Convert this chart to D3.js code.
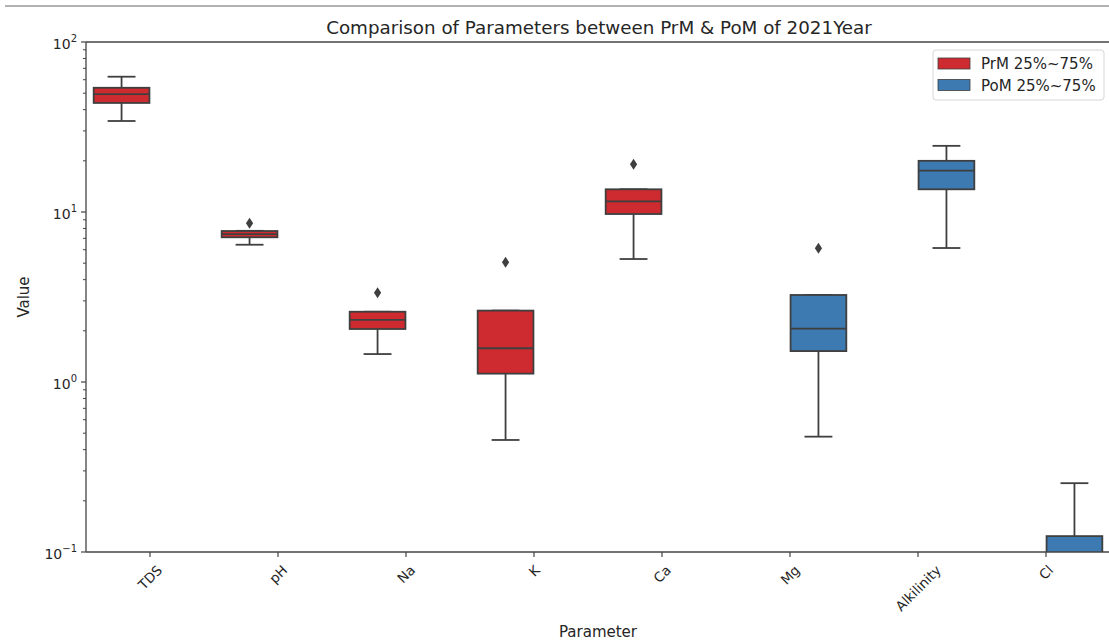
<html>
  <head>
    <script src="https://d3js.org/d3.v7.min.js" charset="utf-8"></script>
    <style>
      body { margin: 0; background: #fff; }
      text { font-family: "DejaVu Sans", sans-serif; fill: #262626; }
    </style>
  </head>
  <body>
    <script>
      var w = 1109;
      var h = 641;

      // one box per parameter: hue, whisker low, q1, median, q3, whisker high, outliers
      var categories = ["TDS", "pH", "Na", "K", "Ca", "Mg", "Alkilinity", "Cl"];
      var hues = ["PrM", "PrM", "PrM", "PrM", "PrM", "PoM", "PoM", "PoM"];
      var whiskLow = [34.3, 6.42, 1.46, 0.456, 5.29, 0.477, 6.14, 0.03];
      var q1 = [43.8, 7.10, 2.05, 1.12, 9.73, 1.52, 13.6, 0.06];
      var median = [49.4, 7.42, 2.32, 1.58, 11.56, 2.06, 17.5, 0.09];
      var q3 = [53.8, 7.73, 2.59, 2.63, 13.6, 3.25, 20.0, 0.124];
      var whiskHigh = [62.5, 7.75, 2.59, 2.63, 13.6, 3.25, 24.5, 0.254];
      var outliers = [[], [8.58], [3.35], [5.06], [19.1], [6.11], [], []];

      var hueNames = ["PrM", "PoM"];
      var legendLabels = ["PrM 25%~75%", "PoM 25%~75%"];
      var yTicks = [0.1, 1, 10, 100];

      var colors = {PrM: "#cd2b2f", PoM: "#3c7ab1"};
      var lineColor = "#3f3f3f";

      var mLeft = 86, mRight = 1110, mTop = 42, mBottom = 552;

      var svg = d3.select("body")
      .append("svg")
      .attr("width", w)
      .attr("height", h);

      // thin frame line at the very top of the picture
      svg.append("line")
      .attr("x1", 5).attr("x2", w)
      .attr("y1", 6).attr("y2", 6)
      .attr("stroke", "#666").attr("stroke-width", 1.2);

      var x = d3.scaleBand().domain(categories).range([mLeft, mRight]);
      var y = d3.scaleLog().domain([0.1, 100]).range([mBottom, mTop]);
      var dodge = d3.scaleBand().domain(hueNames).range([0, x.bandwidth()]).paddingOuter(0.125).paddingInner(0);

      svg.append("defs").append("clipPath").attr("id", "plotclip")
      .append("rect")
      .attr("x", mLeft).attr("y", mTop)
      .attr("width", mRight - mLeft).attr("height", mBottom - mTop);

      var data = categories.map(function(c, i){
        return {cat: c, hue: hues[i], lo: whiskLow[i], q1: q1[i], med: median[i],
                q3: q3[i], hi: whiskHigh[i], out: outliers[i]};
      });

      var g = svg.append("g").attr("clip-path", "url(#plotclip)");
      var boxW = dodge.bandwidth() * 0.98;

      var boxes = g.selectAll(".box")
      .data(data)
      .enter()
      .append("g")
      .attr("class", "box")
      .attr("transform", function(d){
        return "translate(" + (x(d.cat) + dodge(d.hue) + dodge.bandwidth() / 2) + ",0)";
      });

      // whiskers
      boxes.append("line")
      .attr("x1", 0).attr("x2", 0)
      .attr("y1", function(d){return y(d.hi);})
      .attr("y2", function(d){return y(d.q3);})
      .attr("stroke", lineColor).attr("stroke-width", 1.8);
      boxes.append("line")
      .attr("x1", 0).attr("x2", 0)
      .attr("y1", function(d){return y(d.q1);})
      .attr("y2", function(d){return y(d.lo);})
      .attr("stroke", lineColor).attr("stroke-width", 1.8);
      // caps
      boxes.selectAll(".cap")
      .data(function(d){return [d.lo, d.hi];})
      .enter()
      .append("line")
      .attr("class", "cap")
      .attr("x1", -boxW / 4).attr("x2", boxW / 4)
      .attr("y1", function(v){return y(v);})
      .attr("y2", function(v){return y(v);})
      .attr("stroke", lineColor).attr("stroke-width", 1.8);

      boxes.append("rect")
      .attr("x", -boxW / 2)
      .attr("width", boxW)
      .attr("y", function(d){return y(d.q3);})
      .attr("height", function(d){return y(d.q1) - y(d.q3);})
      .attr("fill", function(d){return colors[d.hue];})
      .attr("stroke", lineColor).attr("stroke-width", 1.8);

      boxes.append("line")
      .attr("x1", -boxW / 2).attr("x2", boxW / 2)
      .attr("y1", function(d){return y(d.med);})
      .attr("y2", function(d){return y(d.med);})
      .attr("stroke", lineColor).attr("stroke-width", 1.8);

      boxes.selectAll(".flier")
      .data(function(d){return d.out;})
      .enter()
      .append("path")
      .attr("class", "flier")
      .attr("d", function(v){
        var cy = y(v);
        return "M0," + (cy - 5.5) + "L3.6," + cy + "L0," + (cy + 5.5) + "L-3.6," + cy + "Z";
      })
      .attr("fill", lineColor);

      // spines
      svg.append("line").attr("x1", mLeft).attr("x2", mRight).attr("y1", mTop).attr("y2", mTop)
      .attr("stroke", "#444").attr("stroke-width", 1.3);
      svg.append("line").attr("x1", mLeft).attr("x2", mRight).attr("y1", mBottom).attr("y2", mBottom)
      .attr("stroke", "#444").attr("stroke-width", 1.3);
      svg.append("line").attr("x1", mLeft).attr("x2", mLeft).attr("y1", mTop).attr("y2", mBottom)
      .attr("stroke", "#444").attr("stroke-width", 1.3);

      // y axis: major ticks with 10^n labels, minor ticks 2..9
      var minor = [];
      yTicks.slice(0, -1).forEach(function(t){
        for (var k = 2; k < 10; k++) minor.push(t * k);
      });
      var yAxis = svg.append("g").attr("transform", "translate(" + mLeft + ",0)");
      yAxis.selectAll(".minor")
      .data(minor).enter().append("line")
      .attr("x1", -3).attr("x2", 0)
      .attr("y1", function(v){return y(v);}).attr("y2", function(v){return y(v);})
      .attr("stroke", "#444").attr("stroke-width", 1);
      yAxis.selectAll(".major")
      .data(yTicks).enter().append("line")
      .attr("x1", -5).attr("x2", 0)
      .attr("y1", function(v){return y(v);}).attr("y2", function(v){return y(v);})
      .attr("stroke", "#444").attr("stroke-width", 1.2);
      var ylab = yAxis.selectAll(".ylab")
      .data(yTicks).enter().append("text")
      .attr("x", -9)
      .attr("y", function(v){return y(v) + 6.5;})
      .attr("text-anchor", "end")
      .attr("font-size", 14);
      ylab.append("tspan").text("10");
      ylab.append("tspan")
      .attr("font-size", 10)
      .attr("dy", -6.5)
      .text(function(v){
        var e = Math.round(Math.log10(v));
        return e < 0 ? "\u2212" + Math.abs(e) : e;
      });

      // x axis ticks and rotated labels
      svg.selectAll(".xtick")
      .data(categories).enter().append("line")
      .attr("x1", function(c){return x(c) + x.bandwidth() / 2;})
      .attr("x2", function(c){return x(c) + x.bandwidth() / 2;})
      .attr("y1", mBottom).attr("y2", mBottom + 5)
      .attr("stroke", "#444").attr("stroke-width", 1.2);
      svg.selectAll(".xlab")
      .data(categories).enter().append("text")
      .attr("class", "xlab")
      .attr("font-size", 13.5)
      .attr("text-anchor", "middle")
      .attr("dominant-baseline", "central")
      .text(function(c){return c;})
      .attr("transform", function(c){
        var tw = this.getComputedTextLength();
        var cy = mBottom + 11 + (tw + 13) / (2 * Math.SQRT2);
        return "translate(" + (x(c) + x.bandwidth() / 2) + "," + cy + ") rotate(-45)";
      });

      svg.append("text")
      .attr("x", 598).attr("y", 637)
      .attr("text-anchor", "middle").attr("font-size", 15)
      .text("Parameter");
      svg.append("text")
      .attr("transform", "translate(29," + ((mTop + mBottom) / 2) + ") rotate(-90)")
      .attr("text-anchor", "middle").attr("font-size", 15)
      .text("Value");

      svg.append("text")
      .attr("x", 599).attr("y", 34)
      .attr("text-anchor", "middle").attr("font-size", 18.3)
      .text("Comparison of Parameters between PrM & PoM of 2021Year");

      // legend
      var legend = svg.append("g").attr("transform", "translate(933,50)");
      legend.append("rect")
      .attr("width", 171).attr("height", 50).attr("rx", 3)
      .attr("fill", "#fff").attr("stroke", "#d6d6d6");
      var items = legend.selectAll(".item")
      .data(hueNames).enter().append("g")
      .attr("transform", function(d, i){return "translate(5," + (8 + i * 21.5) + ")";});
      items.append("rect")
      .attr("width", 32).attr("height", 11)
      .attr("fill", function(d){return colors[d];})
      .attr("stroke", lineColor).attr("stroke-width", 0.8);
      items.append("text")
      .attr("x", 43).attr("y", 11)
      .attr("font-size", 15)
      .text(function(d, i){return legendLabels[i];});
    </script>
  </body>
</html>
